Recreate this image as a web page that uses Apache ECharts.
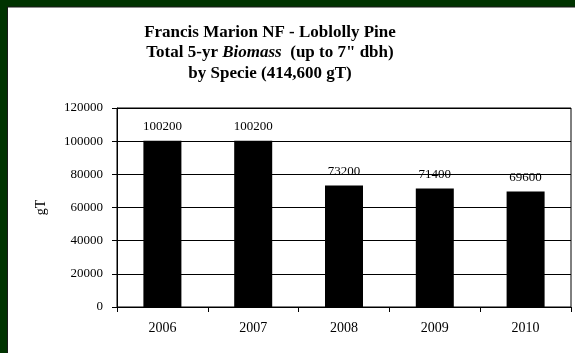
<!DOCTYPE html>
<html><head><meta charset="utf-8">
<script src="https://cdn.jsdelivr.net/npm/echarts@6/dist/echarts.min.js"></script>
<style>html,body{margin:0;padding:0;background:#fff}#c{width:575px;height:353px}</style>
</head><body><div id="c"></div>
<script>
const categories = ['2006', '2007', '2008', '2009', '2010'];
const biomass = [100200, 100200, 73200, 71400, 69600];
const yTicks = [0, 20000, 40000, 60000, 80000, 100000, 120000];
const titleLines = ['Francis Marion NF - Loblolly Pine', 'Total 5-yr {i|Biomass}  (up to 7" dbh)', 'by Specie (414,600 gT)'];

const chart = echarts.init(document.getElementById('c'), null, {renderer: 'canvas'});
const FONT = '"Liberation Serif", "Times New Roman", serif';
chart.setOption({
  backgroundColor: '#fff',
  animation: false,
  title: {
    text: titleLines.join('\n'),
    left: 265, top: 17, textAlign: 'center',
    textStyle: {
      fontFamily: FONT, fontWeight: 'bold', fontSize: 17, color: '#000', lineHeight: 20.5,
      rich: { i: { fontFamily: FONT, fontWeight: 'bold', fontStyle: 'italic', fontSize: 17, color: '#000', lineHeight: 20.5 } }
    }
  },
  graphic: [
    {type: 'rect', shape: {x: 0, y: 0, width: 575, height: 7}, style: {fill: '#003300'}, z: 100},
    {type: 'rect', shape: {x: 0, y: 0, width: 7, height: 353}, style: {fill: '#003300'}, z: 100},
    {type: 'line', shape: {x1: 7, y1: 7, x2: 575, y2: 7}, style: {stroke: '#1a1a1a', lineWidth: 1}, z: 100},
    {type: 'line', shape: {x1: 7.5, y1: 7, x2: 7.5, y2: 353}, style: {stroke: '#1a1a1a', lineWidth: 1}, z: 100}
  ],
  grid: {left: 117, top: 108, right: 4, bottom: 46, show: true, borderColor: '#000', borderWidth: 1},
  xAxis: {
    type: 'category', data: categories,
    axisLine: {lineStyle: {color: '#000', width: 1}},
    axisTick: {show: true, length: 5, alignWithLabel: false, lineStyle: {color: '#000'}},
    axisLabel: {fontFamily: FONT, fontSize: 14, color: '#000', margin: 14}
  },
  yAxis: {
    type: 'value', min: yTicks[0], max: yTicks[yTicks.length - 1], interval: yTicks[1] - yTicks[0],
    name: 'gT', nameLocation: 'middle', nameGap: 69, nameRotate: 90,
    nameTextStyle: {fontFamily: FONT, fontSize: 14, color: '#000'},
    axisLine: {show: true, lineStyle: {color: '#000', width: 1}},
    axisTick: {show: true, length: 5, lineStyle: {color: '#000'}},
    axisLabel: {fontFamily: FONT, fontSize: 13, color: '#000', margin: 14, formatter: v => String(v)},
    splitLine: {show: true, lineStyle: {color: '#000', width: 1}}
  },
  series: [{
    type: 'bar', data: biomass, barWidth: 38,
    itemStyle: {color: '#000'},
    label: {show: true, position: 'top', distance: 8, fontFamily: FONT, fontSize: 13, color: '#000', formatter: p => String(p.value)}
  }]
});
</script></body></html>
